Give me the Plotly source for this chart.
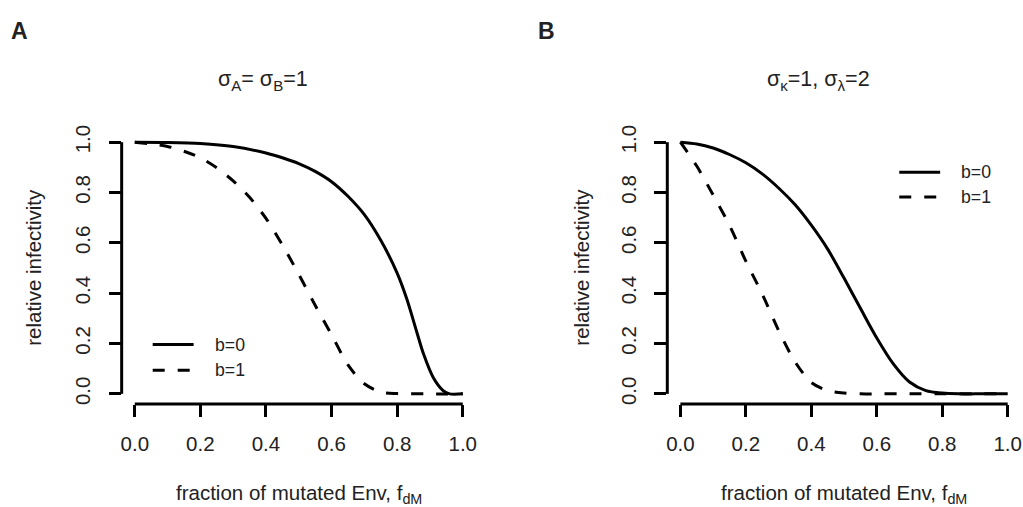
import plotly.graph_objects as go

# ---------------- data ----------------
x_A_b0 = [0.0, 0.1, 0.2, 0.3, 0.4, 0.45, 0.5, 0.55, 0.6, 0.65, 0.7, 0.75, 0.8, 0.83, 0.86, 0.88, 0.91, 0.94, 0.96, 1.0]
y_A_b0 = [1.0, 0.999, 0.995, 0.983, 0.957, 0.938, 0.915, 0.884, 0.843, 0.785, 0.712, 0.61, 0.48, 0.375, 0.245, 0.16, 0.065, 0.013, 0.0, 0.0]

x_A_b1 = [0.0, 0.05, 0.1, 0.15, 0.2, 0.25, 0.3, 0.35, 0.4, 0.45, 0.5, 0.55, 0.6, 0.65, 0.7, 0.75, 0.8, 0.9, 1.0]
y_A_b1 = [1.0, 0.993, 0.983, 0.964, 0.9375, 0.898, 0.846, 0.781, 0.697, 0.592, 0.475, 0.352, 0.235, 0.115, 0.04, 0.007, 0.001, 0.0, 0.0]

x_B_b0 = [0.0, 0.05, 0.1, 0.15, 0.2, 0.25, 0.3, 0.35, 0.4, 0.45, 0.5, 0.55, 0.6, 0.65, 0.7, 0.75, 0.8, 0.85, 0.9, 1.0]
y_B_b0 = [1.0, 0.993, 0.977, 0.951, 0.918, 0.874, 0.818, 0.752, 0.67, 0.575, 0.46, 0.34, 0.222, 0.12, 0.047, 0.013, 0.003, 0.0, 0.0, 0.0]

x_B_b1 = [0.0, 0.05, 0.1, 0.15, 0.2, 0.25, 0.3, 0.35, 0.4, 0.45, 0.5, 0.55, 0.6, 0.7, 0.8, 0.9, 1.0]
y_B_b1 = [1.0, 0.905, 0.79, 0.67, 0.527, 0.397, 0.252, 0.128, 0.045, 0.013, 0.003, 0.0, 0.0, 0.0, 0.0, 0.0, 0.0]

tick_vals = [0.0, 0.2, 0.4, 0.6, 0.8, 1.0]
tick_text = ["0.0", "0.2", "0.4", "0.6", "0.8", "1.0"]
series_names = ["b=0", "b=1"]
titles = ["σ<sub>A</sub>= σ<sub>B</sub>=1", "σ<sub>κ</sub>=1, σ<sub>λ</sub>=2"]
panel_labels = ["A", "B"]
x_title = "fraction of mutated Env, f<sub>dM</sub>"
y_title = "relative infectivity"

# ---------------- layout geometry ----------------
W, H = 1023, 507
FONT = "Liberation Sans, Arial, Helvetica, sans-serif"
TXT = "#222"
LW = 3
DASH = "12px,13px"
RNG = [-0.04, 1.04]

def px(xp):
    return xp / W

def py(yp):
    return 1 - yp / H

panels = [
    dict(x0=120.9, x1=475.8, y0=127.1, y1=403.3),
    dict(x0=667.6, x1=1021.8, y0=127.1, y1=403.3),
]

fig = go.Figure()

data = [
    [(x_A_b0, y_A_b0, "solid"), (x_A_b1, y_A_b1, DASH)],
    [(x_B_b0, y_B_b0, "solid"), (x_B_b1, y_B_b1, DASH)],
]

for i, p in enumerate(panels):
    xa = "x" if i == 0 else "x2"
    ya = "y" if i == 0 else "y2"
    for j, (xs, ys, dash) in enumerate(data[i]):
        fig.add_trace(go.Scatter(x=xs, y=ys, mode="lines", xaxis=xa, yaxis=ya,
                                 line=dict(color="black", width=LW, dash=dash, shape="spline", smoothing=0.8),
                                 name=series_names[j], showlegend=False, hoverinfo="skip"))

axis_common = dict(range=RNG, tickvals=tick_vals, ticktext=tick_text, ticks="outside",
                   ticklen=12, tickwidth=LW, tickcolor="black", showgrid=False,
                   zeroline=False, showline=False, fixedrange=True,
                   tickfont=dict(family=FONT, size=20.5, color=TXT))

layout = dict(width=W, height=H, margin=dict(l=0, r=0, t=0, b=0),
              paper_bgcolor="white", plot_bgcolor="white", showlegend=False,
              font=dict(family=FONT, color=TXT))

for i, p in enumerate(panels):
    sx = "xaxis" if i == 0 else "xaxis2"
    sy = "yaxis" if i == 0 else "yaxis2"
    layout[sx] = dict(axis_common, domain=[px(p["x0"]), px(p["x1"])],
                      anchor="y" if i == 0 else "y2", ticklabelstandoff=9)
    layout[sy] = dict(axis_common, domain=[py(p["y1"]), py(p["y0"])],
                      anchor="x" if i == 0 else "x2", tickangle=-90, ticklabelstandoff=10)

fig.update_layout(**layout)

shapes = []
annotations = []

def data_to_paper_x(p, v):
    return px(p["x0"] + (v - RNG[0]) / (RNG[1] - RNG[0]) * (p["x1"] - p["x0"]))

def data_to_paper_y(p, v):
    return py(p["y1"] - (v - RNG[0]) / (RNG[1] - RNG[0]) * (p["y1"] - p["y0"]))

for i, p in enumerate(panels):
    # R-style axis lines spanning first to last tick
    shapes.append(dict(type="line", xref="paper", yref="paper",
                       x0=data_to_paper_x(p, 0), x1=data_to_paper_x(p, 1),
                       y0=py(p["y1"]), y1=py(p["y1"]),
                       line=dict(color="black", width=LW)))
    shapes.append(dict(type="line", xref="paper", yref="paper",
                       x0=px(p["x0"]), x1=px(p["x0"]),
                       y0=data_to_paper_y(p, 0), y1=data_to_paper_y(p, 1),
                       line=dict(color="black", width=LW)))

# titles and labels
title_x = [263, 819]
label_x = [19, 547]
ytitle_x = [33, 582]
for i, p in enumerate(panels):
    annotations.append(dict(text=titles[i], x=px(title_x[i]), y=py(75), xref="paper", yref="paper",
                            showarrow=False, xanchor="center", yanchor="middle",
                            font=dict(family=FONT, size=21.5, color=TXT)))
    annotations.append(dict(text="<b>" + panel_labels[i] + "</b>", x=px(label_x[i]), y=py(24),
                            xref="paper", yref="paper", showarrow=False,
                            xanchor="center", yanchor="middle",
                            font=dict(family=FONT, size=23, color=TXT)))
    annotations.append(dict(text=x_title, x=px((p["x0"] + p["x1"]) / 2), y=py(495),
                            xref="paper", yref="paper", showarrow=False,
                            xanchor="center", yanchor="middle",
                            font=dict(family=FONT, size=20.5, color=TXT)))
    annotations.append(dict(text=y_title, x=px(ytitle_x[i]), y=py(264),
                            xref="paper", yref="paper", showarrow=False, textangle=-90,
                            xanchor="center", yanchor="middle",
                            font=dict(family=FONT, size=20.5, color=TXT)))

# legends
legends = [
    dict(x0=152, x1=193, tx=212, ys=[343, 369]),
    dict(x0=900, x1=941, tx=960, ys=[168, 193]),
]
for lg in legends:
    for j, dash in enumerate(["solid", DASH]):
        shapes.append(dict(type="line", xref="paper", yref="paper",
                           x0=px(lg["x0"]), x1=px(lg["x1"]), y0=py(lg["ys"][j]), y1=py(lg["ys"][j]),
                           line=dict(color="black", width=LW, dash=dash)))
        annotations.append(dict(text=series_names[j], x=px(lg["tx"]), y=py(lg["ys"][j]),
                                xref="paper", yref="paper", showarrow=False,
                                xanchor="left", yanchor="middle",
                                font=dict(family=FONT, size=17.7, color=TXT)))

fig.update_layout(shapes=shapes, annotations=annotations)
fig.write_html("out.html", config={"displayModeBar": False, "staticPlot": True},
               post_script="document.body.style.margin='0';document.body.style.overflow='hidden';")
